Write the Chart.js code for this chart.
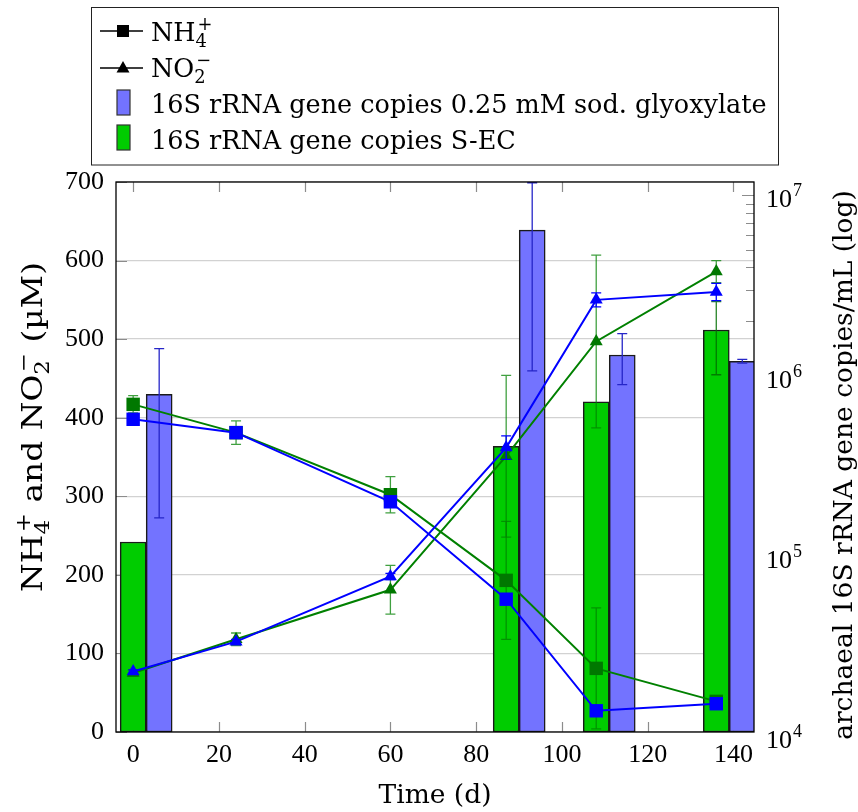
<!DOCTYPE html>
<html>
<head>
<meta charset="utf-8">
<title>NH4+ / NO2- and archaeal 16S rRNA gene copies</title>
<script src="https://cdn.jsdelivr.net/npm/chart.js@4.4.1/dist/chart.umd.min.js"></script>
<style>
  html, body { margin: 0; padding: 0; background: #fff; }
  #chart { display: block; }
</style>
</head>
<body>
<canvas id="chart" width="858" height="812"></canvas>
<script>
// sampling days for the NH4+ / NO2- measurements (uM)
const days = [0, 24, 60, 87, 108, 136];
const nh4Gly = [398, 381, 293, 169, 27, 36];
const nh4GlyErr = [3, 3, 4, 4, 3, 3];
const nh4Sec = [417, 381, 302, 193, 81, 39];
const nh4SecErr = [11, 15, 23, 75, 77, 4];
const no2Gly = [77, 115, 198, 362, 550, 560];
const no2GlyErr = [2, 3, 4, 15, 9, 11];
const no2Sec = [75, 118, 181, 351, 497, 586];
const no2SecErr = [4, 8, 31, 103, 110, 14];

// qPCR sampling days and gene copies / mL
const barDays = [0, 87, 108, 136];
const copiesSec = [1.19e5, 4.05e5, 7.14e5, 1.79e6];
const copiesSecErr = [0, 0, 0, 7.8e5];
const copiesGly = [7.87e5, 6.41e6, 1.30e6, 1.20e6];
const copiesGlyErr = [6.25e5, 5.35e6, 4.1e5, 2.9e4];

const xTicks = [0, 20, 40, 60, 80, 100, 120, 140];
const yTicks = [0, 100, 200, 300, 400, 500, 600, 700];
const logTicks = [1e4, 1e5, 1e6, 1e7];

const X_MIN = -4, X_MAX = 144.8;
const BAR_PX = 26;
const BLUE_SHIFT = 6.07;   // glyoxylate bar sits one bar width right of the S-EC bar
const Y1_MIN = 1.049e4, Y1_MAX = 1.187e7;

const NUM_FONT = '"Liberation Serif", serif';
const TXT_FONT = '"DejaVu Serif", serif';

const BLUE = '#0000ff', GREEN = '#008000';
const BLUE_BAR = '#7373ff', GREEN_BAR = '#00cc00';

function pts(xs, ys) {
    return xs.map((x, i) => ({ x: x, y: ys[i] }));
}

// text with stacked sub/superscripts, e.g. NH4+
function rich(ctx, parts, x, y, size, draw) {
    let cx = x;
    parts.forEach(p => {
        if (p.t) {
            ctx.font = size + 'px ' + TXT_FONT;
            if (draw) ctx.fillText(p.t, cx, y);
            cx += ctx.measureText(p.t).width;
        } else {
            const s = size * 0.7;
            ctx.font = s + 'px ' + TXT_FONT;
            let w = 0;
            if (p.sub) {
                if (draw) ctx.fillText(p.sub, cx, y + size * 0.24);
                w = ctx.measureText(p.sub).width;
            }
            if (p.sup) {
                if (draw) ctx.fillText(p.sup, cx + 2, y - size * 0.42);
                w = Math.max(w, ctx.measureText(p.sup).width + 2);
            }
            cx += w;
        }
    });
    return cx - x;
}

function drawErrors(chart, index) {
    const ds = chart.data.datasets[index];
    if (!ds.errors) return;
    const meta = chart.getDatasetMeta(index);
    const ys = chart.scales[ds.yAxisID];
    const area = chart.chartArea;
    const ctx = chart.ctx;
    ctx.save();
    ctx.beginPath();
    ctx.rect(area.left, area.top - 2, area.right - area.left, area.bottom - area.top + 4);
    ctx.clip();
    ctx.strokeStyle = ds.errorColor;
    ctx.lineWidth = 1.3;
    meta.data.forEach((el, i) => {
        const e = ds.errors[i];
        if (!e) return;
        const v = ds.data[i].y;
        const top = ys.getPixelForValue(v + e);
        const bot = v - e > 0 ? ys.getPixelForValue(v - e) : area.bottom;
        const x = el.x;
        ctx.beginPath();
        ctx.moveTo(x, top); ctx.lineTo(x, bot);
        ctx.moveTo(x - 5, top); ctx.lineTo(x + 5, top);
        ctx.moveTo(x - 5, bot); ctx.lineTo(x + 5, bot);
        ctx.stroke();
    });
    ctx.restore();
}

const decorations = {
    id: 'decorations',
    beforeDatasetsDraw(chart) {
        const ctx = chart.ctx;
        const a = chart.chartArea;
        const xs = chart.scales.x, ys = chart.scales.y, y1 = chart.scales.y1;
        ctx.save();
        ctx.strokeStyle = '#8c8c8c';
        ctx.lineWidth = 1.2;
        ctx.beginPath();
        xTicks.forEach(v => {
            const px = Math.round(xs.getPixelForValue(v)) + 0.5;
            ctx.moveTo(px, a.bottom); ctx.lineTo(px, a.bottom - 10);
            ctx.moveTo(px, a.top); ctx.lineTo(px, a.top + 10);
        });
        yTicks.forEach(v => {
            const py = Math.round(ys.getPixelForValue(v)) + 0.5;
            ctx.moveTo(a.left, py); ctx.lineTo(a.left + 11, py);
        });
        for (let k = 4; k <= 7; k++) {
            for (let m = 1; m <= 9; m++) {
                const v = m * Math.pow(10, k);
                if (v < Y1_MIN || v > Y1_MAX) continue;
                const py = Math.round(y1.getPixelForValue(v)) + 0.5;
                ctx.moveTo(a.right, py); ctx.lineTo(a.right - (m === 1 ? 12 : 8), py);
            }
        }
        ctx.stroke();
        ctx.restore();
    },
    beforeDatasetDraw(chart, args) {
        if (chart.data.datasets[args.index].type === 'line') drawErrors(chart, args.index);
    },
    afterDatasetDraw(chart, args) {
        if (chart.data.datasets[args.index].type === 'bar') drawErrors(chart, args.index);
    },
    afterDatasetsDraw(chart) {
        const ctx = chart.ctx;
        const a = chart.chartArea;
        ctx.save();
        ctx.strokeStyle = '#000';
        ctx.lineWidth = 1.3;
        ctx.strokeRect(a.left, a.top, a.right - a.left, a.bottom - a.top);
        ctx.restore();
    },
    afterDraw(chart) {
        const ctx = chart.ctx;
        const a = chart.chartArea;
        const y1 = chart.scales.y1;
        ctx.save();
        ctx.fillStyle = '#000';
        ctx.textAlign = 'left';
        ctx.textBaseline = 'alphabetic';

        // right log axis labels 10^k
        logTicks.forEach(v => {
            const py = y1.getPixelForValue(v);
            const k = Math.round(Math.log10(v));
            ctx.font = '26px ' + NUM_FONT;
            ctx.fillText('10', a.right + 12, py + 12);
            const w = ctx.measureText('10').width;
            ctx.font = '18px ' + NUM_FONT;
            ctx.fillText(String(k), a.right + 13 + w, py + 1);
        });

        // axis titles
        ctx.font = '26.5px ' + TXT_FONT;
        ctx.textAlign = 'center';
        ctx.fillText('Time (d)', (a.left + a.right) / 2, 803);

        ctx.save();
        ctx.translate(852, 465);
        ctx.rotate(-Math.PI / 2);
        ctx.fillText('archaeal 16S rRNA gene copies/mL (log)', 0, 0);
        ctx.restore();

        ctx.textAlign = 'left';
        const leftTitle = [{ t: 'NH' }, { sub: '4', sup: '+' }, { t: ' and NO' }, { sub: '2', sup: '\u2212' }, { t: ' (\u00b5M)' }];
        ctx.save();
        ctx.translate(42, 427);
        ctx.rotate(-Math.PI / 2);
        const tw = rich(ctx, leftTitle, 0, 0, 28, false);
        const sx = 330 / tw;
        ctx.scale(sx, 1);
        rich(ctx, leftTitle, -tw / 2, 0, 28, true);
        ctx.restore();

        // legend
        ctx.strokeStyle = '#222';
        ctx.lineWidth = 1;
        ctx.strokeRect(91.5, 7.5, 687, 157.5);

        ctx.strokeStyle = '#000';
        ctx.lineWidth = 1.5;
        ctx.beginPath();
        ctx.moveTo(100, 31); ctx.lineTo(143, 31);
        ctx.moveTo(100, 68); ctx.lineTo(143, 68);
        ctx.stroke();
        ctx.fillStyle = '#000';
        ctx.fillRect(117, 25, 12, 12);
        ctx.beginPath();
        ctx.moveTo(123, 61); ctx.lineTo(129.5, 72.5); ctx.lineTo(116.5, 72.5);
        ctx.closePath();
        ctx.fill();

        ctx.lineWidth = 1.2;
        ctx.strokeStyle = '#333';
        ctx.fillStyle = BLUE_BAR;
        ctx.fillRect(117, 90, 13, 25);
        ctx.strokeRect(117, 90, 13, 25);
        ctx.fillStyle = GREEN_BAR;
        ctx.fillRect(117, 125, 13, 25);
        ctx.strokeRect(117, 125, 13, 25);

        ctx.fillStyle = '#000';
        rich(ctx, [{ t: 'NH' }, { sub: '4', sup: '+' }], 151, 41, 25.5, true);
        rich(ctx, [{ t: 'NO' }, { sub: '2', sup: '\u2212' }], 151, 77, 25.5, true);
        rich(ctx, [{ t: '16S rRNA gene copies 0.25 mM sod. glyoxylate' }], 151, 113, 25.5, true);
        rich(ctx, [{ t: '16S rRNA gene copies S-EC' }], 151, 149, 25.5, true);
        ctx.restore();
    }
};

const barStyle = {
    type: 'bar', yAxisID: 'y1', grouped: false,
    maxBarThickness: BAR_PX, barPercentage: 1, categoryPercentage: 1,
    borderColor: '#1a1a1a', borderWidth: 1.5, borderSkipped: false, order: 10
};

const ctx = document.getElementById('chart').getContext('2d');
new Chart(ctx, {
    type: 'bar',
    data: {
        datasets: [
            Object.assign({}, barStyle, {
                label: '16S rRNA gene copies S-EC', xAxisID: 'x',
                data: pts(barDays, copiesSec), errors: copiesSecErr, errorColor: 'rgba(0,110,0,0.85)',
                backgroundColor: GREEN_BAR
            }),
            Object.assign({}, barStyle, {
                label: '16S rRNA gene copies 0.25 mM sod. glyoxylate', xAxisID: 'xb',
                data: pts(barDays, copiesGly), errors: copiesGlyErr, errorColor: '#2626c8',
                backgroundColor: BLUE_BAR
            }),
            {
                type: 'line', label: 'NH4+ S-EC',
                data: pts(days, nh4Sec), errors: nh4SecErr, errorColor: 'rgba(0,128,0,0.75)',
                xAxisID: 'x', yAxisID: 'y',
                borderColor: GREEN, borderWidth: 2, pointStyle: 'rect', pointRadius: 9.5,
                pointBackgroundColor: '#007800', pointBorderColor: '#007800', pointBorderWidth: 0,
                tension: 0, order: 4
            },
            {
                type: 'line', label: 'NO2- S-EC',
                data: pts(days, no2Sec), errors: no2SecErr, errorColor: 'rgba(0,128,0,0.75)',
                xAxisID: 'x', yAxisID: 'y',
                borderColor: GREEN, borderWidth: 2, pointStyle: 'triangle', pointRadius: 7.5,
                pointBackgroundColor: '#007800', pointBorderColor: '#007800', pointBorderWidth: 0,
                tension: 0, order: 3
            },
            {
                type: 'line', label: 'NH4+ glyoxylate',
                data: pts(days, nh4Gly), errors: nh4GlyErr, errorColor: BLUE,
                xAxisID: 'x', yAxisID: 'y',
                borderColor: BLUE, borderWidth: 2, pointStyle: 'rect', pointRadius: 9.5,
                pointBackgroundColor: BLUE, pointBorderColor: BLUE, pointBorderWidth: 0,
                tension: 0, order: 2
            },
            {
                type: 'line', label: 'NO2- glyoxylate',
                data: pts(days, no2Gly), errors: no2GlyErr, errorColor: BLUE,
                xAxisID: 'x', yAxisID: 'y',
                borderColor: BLUE, borderWidth: 2, pointStyle: 'triangle', pointRadius: 7.5,
                pointBackgroundColor: BLUE, pointBorderColor: BLUE, pointBorderWidth: 0,
                tension: 0, order: 1
            }
        ]
    },
    options: {
        responsive: false,
        animation: false,
        devicePixelRatio: 1,
        layout: { padding: { top: 182, left: 0, right: 0, bottom: 0 } },
        plugins: { legend: { display: false }, tooltip: { enabled: false } },
        scales: {
            x: {
                type: 'linear', position: 'bottom', bounds: 'data', offset: false, min: X_MIN, max: X_MAX,
                grid: { display: false, offset: false }, border: { display: false },
                afterBuildTicks: s => { s.ticks = xTicks.map(v => ({ value: v })); },
                afterFit: s => { s.height = 80; },
                ticks: { color: '#000', font: { family: NUM_FONT, size: 26 }, padding: 0, maxRotation: 0, autoSkip: false }
            },
            xb: {
                type: 'linear', display: false, bounds: 'data', offset: false,
                grid: { offset: false },
                min: X_MIN - BLUE_SHIFT, max: X_MAX - BLUE_SHIFT
            },
            y: {
                type: 'linear', position: 'left', min: 0, max: 700,
                grid: { color: '#d2d2d2', lineWidth: 1.3, drawTicks: false }, border: { display: false },
                afterBuildTicks: s => { s.ticks = yTicks.map(v => ({ value: v })); },
                afterFit: s => { s.width = 116; },
                ticks: { color: '#000', font: { family: NUM_FONT, size: 26 }, padding: 12 }
            },
            y1: {
                type: 'logarithmic', position: 'right', bounds: 'data', min: Y1_MIN, max: Y1_MAX,
                grid: { display: false }, border: { display: false },
                afterFit: s => { s.width = 104; },
                ticks: { display: false }
            }
        }
    },
    plugins: [decorations]
});
</script>
</body>
</html>
